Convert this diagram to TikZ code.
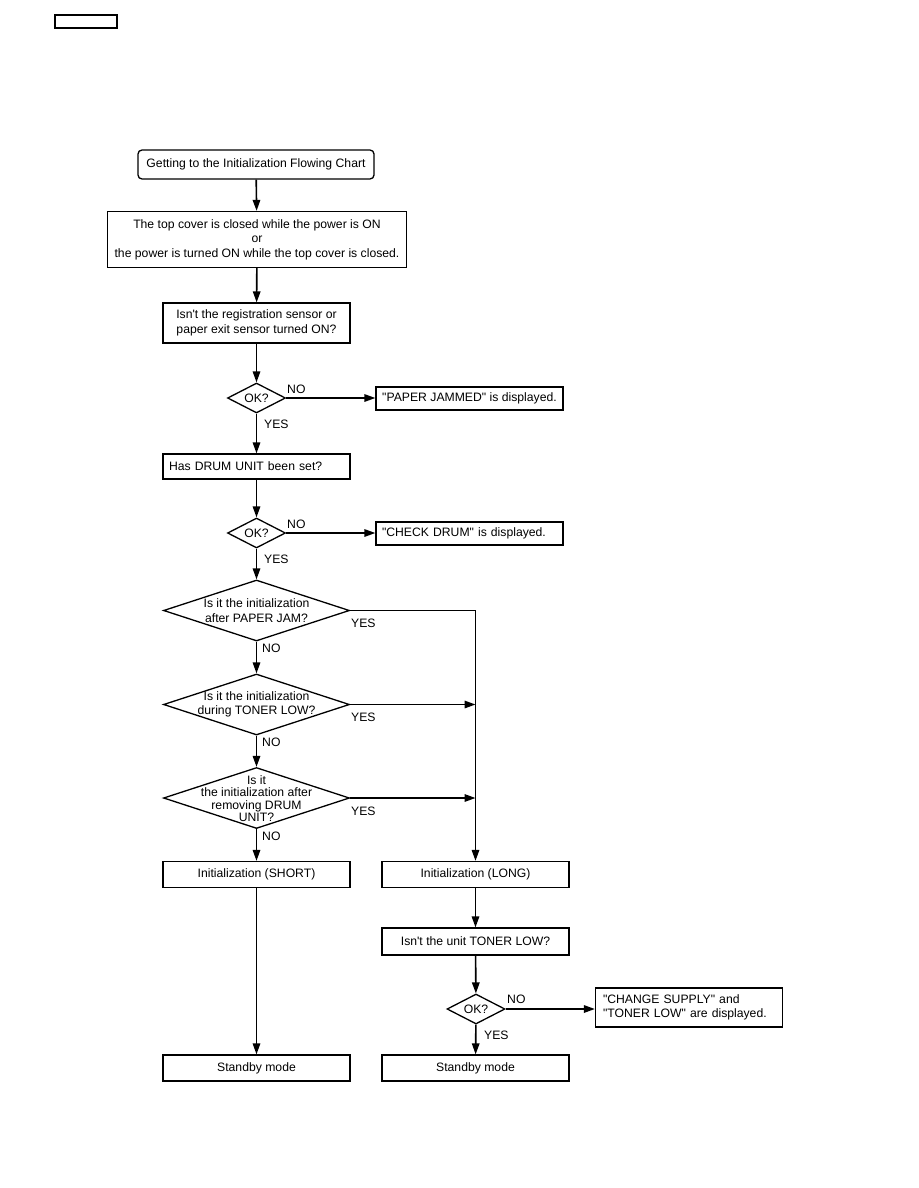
\documentclass[tikz,border=0pt]{standalone}
\usepackage{fontspec}
\setmainfont{Liberation Sans}[Ligatures=TeXOff]
\usetikzlibrary{shapes.geometric,arrows.meta}
\begin{document}
\begin{tikzpicture}[x=1pt,y=-1pt,
  txt/.style={font=\fontsize{12.2}{14.5}\selectfont},
  box/.style={draw,line width=1.3pt,rectangle,inner sep=0pt,align=center,txt},
  dia/.style={draw,line width=1.3pt,diamond,inner sep=0pt},
  lbl/.style={txt,inner sep=0pt,anchor=west},
  arr/.style={line width=1.6pt,-{Triangle[length=11pt,width=7.5pt]}},
  ln/.style={line width=1.6pt}]
\fill[white] (0,0) rectangle (918,1188);
\useasboundingbox (0,0) rectangle (918,1188);

\node[draw,line width=1.3pt,minimum width=62pt,minimum height=13pt,inner sep=0pt] (tag) at (86,21.5) {};

\node[box,rounded corners=4pt,minimum width=236pt,minimum height=29pt] (start) at (256,164.5) {Getting to the Initialization Flowing Chart};
\node[box,minimum width=299pt,minimum height=56pt] (b2) at (257,239.5) {The top cover is closed while the power is ON\\or\\the power is turned ON while the top cover is closed.};
\node[box,minimum width=187pt,minimum height=40pt] (b3) at (256.5,323) {Isn't the registration sensor or\\paper exit sensor turned ON?};
\node[dia,minimum width=58pt,minimum height=30pt] (d1) at (256.5,398) {};
\node[txt,inner sep=0pt] (d1t) at (256.5,398.5) {OK?};
\node[box,minimum width=187pt,minimum height=23pt] (pj) at (469.5,398.5) {"PAPER JAMMED" is displayed.};
\node[box,minimum width=187pt,minimum height=25pt,align=left,text width=175pt] (drum) at (256.5,466.5) {Has DRUM UNIT been set?};
\node[dia,minimum width=58pt,minimum height=30pt] (d2) at (256.5,533) {};
\node[txt,inner sep=0pt] (d2t) at (256.5,533.5) {OK?};
\node[box,minimum width=187pt,minimum height=23pt,align=left,text width=175pt] (cd) at (469.5,533.5) {"CHECK DRUM" is displayed.};

\node[dia,minimum width=186pt,minimum height=61pt] (d3) at (256.5,610.5) {};
\node[txt,align=center,inner sep=0pt] (d3t) at (256.5,610.5) {Is it the initialization\\after PAPER JAM?};
\node[dia,minimum width=186pt,minimum height=61pt] (d4) at (256.5,704.5) {};
\node[txt,align=center,inner sep=0pt] (d4t) at (256.5,704.5) {Is it the initialization\\during TONER LOW?};
\node[dia,minimum width=186pt,minimum height=61pt] (d5) at (256.5,798) {};
\node[font=\fontsize{12.2}{12.3}\selectfont,align=center,inner sep=0pt] (d5t) at (256.5,798.5) {Is it\\the initialization after\\removing DRUM\\UNIT?};

\node[box,minimum width=187pt,minimum height=26pt] (short) at (256.5,874.5) {Initialization (SHORT)};
\node[box,minimum width=187pt,minimum height=26pt] (long) at (475.5,874.5) {Initialization (LONG)};
\node[box,minimum width=187pt,minimum height=27pt] (tl) at (475.5,941.5) {Isn't the unit TONER LOW?};
\node[dia,minimum width=58pt,minimum height=30pt] (d6) at (476,1009) {};
\node[txt,inner sep=0pt] (d6t) at (476,1009.5) {OK?};
\node[box,minimum width=187pt,minimum height=39pt,align=left,text width=172pt] (cs) at (689,1007.5) {"CHANGE SUPPLY" and\\"TONER LOW" are displayed.};
\node[box,minimum width=187pt,minimum height=26pt] (sb1) at (256.5,1068) {Standby mode};
\node[box,minimum width=187pt,minimum height=26pt] (sb2) at (475.5,1068) {Standby mode};

\coordinate (j1) at (475.5,610.5);
\coordinate (j2) at (475.5,704.5);
\coordinate (j3) at (475.5,798);

\draw[arr] (start) -- (b2);
\draw[arr] (b2) -- (b3);
\draw[arr] (b3) -- (d1);
\draw[arr] (d1.east) -- (d1.east -| pj.west);
\draw[arr] (d1) -- (drum);
\draw[arr] (drum) -- (d2);
\draw[arr] (d2.east) -- (d2.east -| cd.west);
\draw[arr] (d2) -- (d3);
\draw[arr] (d3) -- (d4);
\draw[arr] (d4) -- (d5);
\draw[arr] (d5) -- (short);
\draw[ln] (d3.east) -- (j1);
\draw[arr] (j1) -- (long);
\draw[arr] (d4.east) -- (j2);
\draw[arr] (d5.east) -- (j3);
\draw[arr] (short) -- (sb1);
\draw[arr] (long) -- (tl);
\draw[arr] (tl) -- (d6);
\draw[arr] (d6.east) -- (d6.east -| cs.west);
\draw[arr] (d6) -- (sb2);

\node[lbl] (n1) at (287,389) {NO};
\node[lbl] (y1) at (264,424) {YES};
\node[lbl] (n2) at (287,524) {NO};
\node[lbl] (y2) at (264,559) {YES};
\node[lbl] (y3) at (351,623) {YES};
\node[lbl] (n3) at (262,648) {NO};
\node[lbl] (y4) at (351,717) {YES};
\node[lbl] (n4) at (262,742) {NO};
\node[lbl] (y5) at (351,811) {YES};
\node[lbl] (n5) at (262,836) {NO};
\node[lbl] (n6) at (507,999) {NO};
\node[lbl] (y6) at (484,1035) {YES};
\end{tikzpicture}
\end{document}
